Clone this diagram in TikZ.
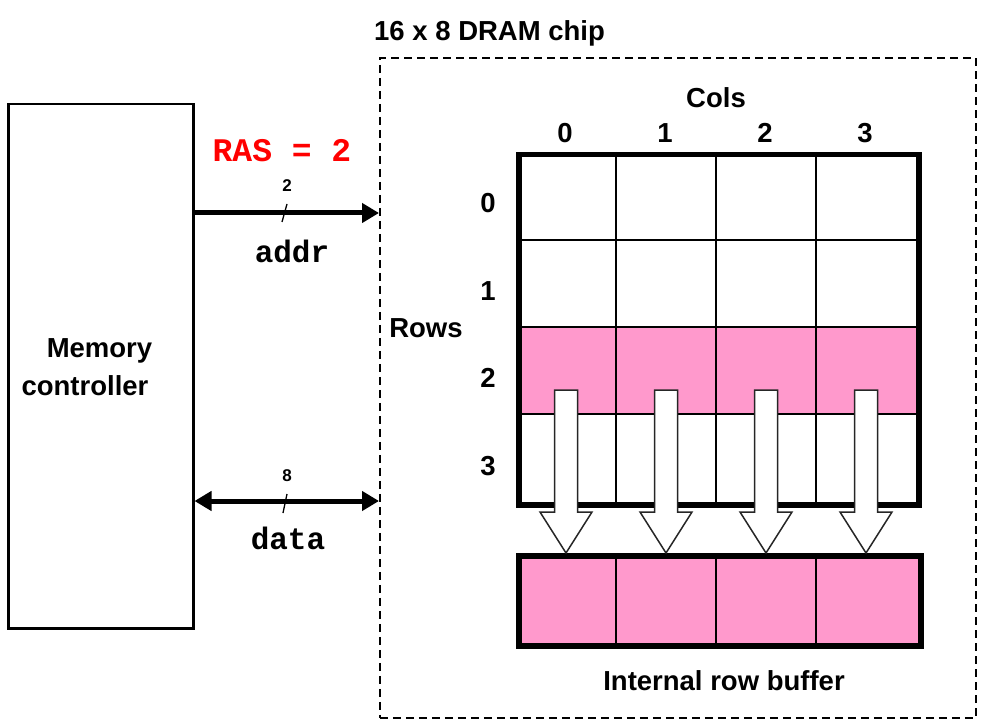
\documentclass[tikz,border=0pt]{standalone}
\usepackage{fontspec}
\setmainfont{Liberation Sans}
\setmonofont{Liberation Mono}
\usetikzlibrary{arrows.meta}
\definecolor{rowpink}{RGB}{255,153,204}
\begin{document}
\begin{tikzpicture}[x=1pt,y=-1pt,
  lab/.style={font=\fontsize{27.5}{30}\selectfont\bfseries, inner sep=0pt},
  small/.style={font=\fontsize{17}{20}\selectfont\bfseries, inner sep=0pt},
  mono/.style={font=\fontsize{31}{34}\selectfont\ttfamily\bfseries, inner sep=0pt},
  bus/.style={line width=5pt, {Triangle[length=17pt,width=19pt]}-{Triangle[length=17pt,width=19pt]}},
  busr/.style={line width=5pt, -{Triangle[length=17pt,width=19pt]}},
  thinline/.style={line width=2.4pt},
  thickline/.style={line width=5.5pt},
  blockarrow/.style={fill=white, draw=black!85, line width=1.5pt, line join=miter}]
\useasboundingbox (0,0) rectangle (982,719);

% memory controller
\node[draw, line width=2.5pt, minimum width=185pt, minimum height=524pt, inner sep=0pt, anchor=north west] (mc) at (7,103) {};
\node[lab, align=center, font=\fontsize{27.5}{38}\selectfont\bfseries] (mctext) at (85,367) {\hspace*{29pt}Memory\\controller};

% chip box
\node[draw, dash pattern=on 8pt off 5pt, line width=1.8pt, minimum width=596pt, minimum height=660pt, inner sep=0pt, anchor=north west] (chip) at (379,57) {};
\node[lab, anchor=west] (title) at (374,33) {16 x 8 DRAM chip};

% addr bus
\coordinate (a1) at (mc.east |- 0,213);
\coordinate (a2) at (chip.west |- 0,213);
\draw[busr] (a1) -- (a2);
\coordinate (s1a) at (282,222);
\coordinate (s1b) at (287,204);
\draw[line width=1.3pt] (s1a) -- (s1b);
\node[small] (n2) at (287,186) {2};
\node[mono] (addr) at (292,251) {addr};
\node[mono, text=red, font=\fontsize{33}{34}\selectfont\ttfamily\bfseries] (ras) at (282,151) {RAS = 2};

% data bus
\coordinate (d1) at (mc.east |- 0,501);
\coordinate (d2) at (chip.west |- 0,501);
\draw[bus] (d1) -- (d2);
\coordinate (s2a) at (283,513);
\coordinate (s2b) at (287,494);
\draw[line width=1.3pt] (s2a) -- (s2b);
\node[small] (n8) at (287,476) {8};
\node[mono] (data) at (288,538) {data};

% array
\fill[rowpink] (516,327) rectangle (916,414);
\foreach \x in {616,716,816} \draw[thinline] (\x,152) -- (\x,502);
\foreach \y in {240,327,414} \draw[thinline] (516,\y) -- (916,\y);
\node[draw, thickline, minimum width=400pt, minimum height=350pt, inner sep=0pt, anchor=north west] (array) at (516,152) {};

\node[lab] (cols) at (716,98) {Cols};
\foreach \i/\x in {0/565,1/665,2/765,3/865} \node[lab] (c\i) at (\x,133) {\i};
\node[lab] (rows) at (426,328) {Rows};
\foreach \i/\y in {0/203,1/291,2/378,3/466} \node[lab] (r\i) at (488,\y) {\i};

% buffer
\fill[rowpink] (516,553) rectangle (918,643);
\foreach \x in {616,716,816} \draw[thinline] (\x,553) -- (\x,643);
\node[draw, thickline, minimum width=402pt, minimum height=90pt, inner sep=0pt, anchor=north west] (buffer) at (516,553) {};
\node[lab] (buftext) at (724,681) {Internal row buffer};

% block arrows
\foreach \c in {566,666,766,866}
  \draw[blockarrow] (\c-11.5,390) -- (\c+11.5,390) -- (\c+11.5,512) -- (\c+26,512) -- (\c,553) -- (\c-26,512) -- (\c-11.5,512) -- cycle;
\end{tikzpicture}
\end{document}
